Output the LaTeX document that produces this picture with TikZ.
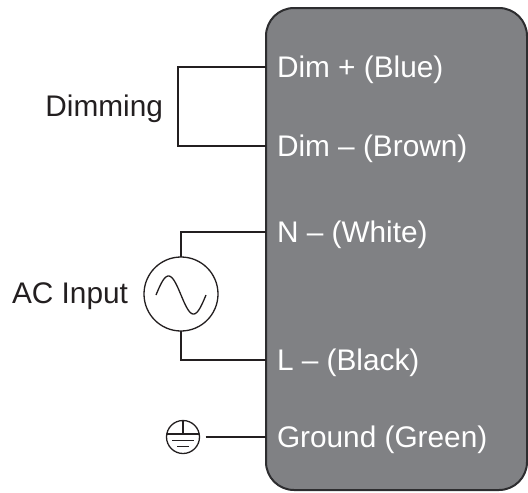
\documentclass[tikz,border=0pt]{standalone}
\usepackage{fontspec}
\setmainfont{Liberation Sans}
\definecolor{ink}{RGB}{35,31,32}
\definecolor{boxgray}{RGB}{128,129,132}
\definecolor{boxedge}{RGB}{45,45,47}
\begin{document}
\begin{tikzpicture}[x=1pt,y=-1pt,
  lbl/.style={font=\fontsize{29.8}{32}\selectfont, text height=21.3pt, text depth=0pt, inner sep=0pt, outer sep=0pt},
  inlbl/.style={lbl, text=white, anchor=west},
  outlbl/.style={lbl, text=ink, anchor=east},
  wire/.style={draw=ink, line width=1.3pt},
  unitbox/.style={draw=boxedge, fill=boxgray, line width=2pt, rounded corners=28pt, minimum width=261pt, minimum height=482pt, inner sep=0pt, outer sep=0pt},
  srcring/.style={circle, draw=ink, line width=1.3pt, minimum size=74pt, inner sep=0pt, outer sep=0pt},
  gndring/.style={circle, draw=ink, line width=1.3pt, minimum size=33pt, inner sep=0pt, outer sep=0pt}]
\useasboundingbox (0,0) rectangle (528,493);
\node[unitbox] (box) at (396.5,249) {};
% labels inside box
\node[inlbl] (dimp) at (277,67) {Dim + (Blue)};
\node[inlbl] (dimm) at (277,146) {Dim – (Brown)};
\node[inlbl] (nw) at (277,232) {N – (White)};
\node[inlbl] (lb) at (277,360) {L – (Black)};
\node[inlbl] (gg) at (277,437) {Ground (Green)};
% outer labels
\node[outlbl] (dim) at (163,106) {Dimming};
\node[outlbl] (acin) at (128,293) {AC Input};
% dimming loop
\draw[wire] (box.west |- dimp) -- ++(-88,0) |- (box.west |- dimm);
% AC source
\node[srcring] (ac) at (181,294) {};
\draw[wire] (box.west |- nw) -| (ac.north);
\draw[wire] (box.west |- lb) -| (ac.south);
\draw[draw=ink, line width=1.3pt, shift={(ac.center)}] plot[domain=-25:25, samples=80, smooth] ({\x}, {1-19*sin(\x*360/50+180)});
% ground
\node[gndring] (gnd) at (183,437) {};
\draw[wire, shorten <=6pt] (gnd.east) -- (box.west |- gnd);
\draw[draw=ink, line width=1.3pt, shift={(gnd.center)}]
  (0,-16.5) -- (0,-3)
  (-16,-3) -- (16,-3)
  (-11,3.5) -- (11,3.5)
  (-6,9.5) -- (6,9.5);
\end{tikzpicture}
\end{document}
